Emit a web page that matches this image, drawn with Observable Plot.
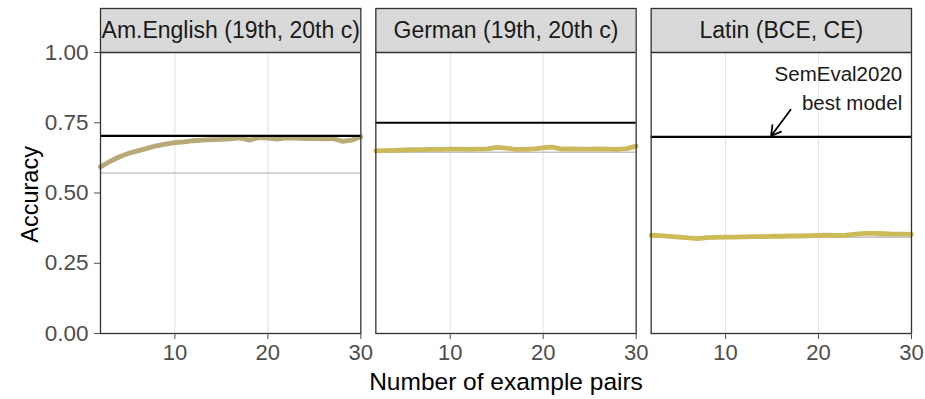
<!DOCTYPE html>
<html>
<head>
<meta charset="utf-8">
<script src="https://cdn.jsdelivr.net/npm/d3@7"></script>
<script src="https://cdn.jsdelivr.net/npm/@observablehq/plot@0.6"></script>
<style>
  html, body { margin: 0; padding: 0; background: #ffffff; }
  svg { overflow: visible; }
</style>
</head>
<body>
<div id="chart"></div>
<script>
// ---- data ----
const languages = ["Am.English (19th, 20th c)", "German (19th, 20th c)", "Latin (BCE, CE)"];
const examplePairs = [2, 3, 4, 5, 6, 7, 8, 9, 10, 11, 12, 13, 14, 15, 16, 17, 18, 19, 20, 21, 22, 23, 24, 25, 26, 27, 28, 29, 30];
const accEnglish = [0.593, 0.612, 0.628, 0.641, 0.650, 0.659, 0.668, 0.674, 0.679, 0.682, 0.686, 0.688, 0.690, 0.691, 0.693, 0.696, 0.688, 0.697, 0.695, 0.692, 0.696, 0.695, 0.694, 0.694, 0.693, 0.694, 0.684, 0.688, 0.700];
const accGerman  = [0.650, 0.651, 0.652, 0.653, 0.654, 0.654, 0.655, 0.655, 0.656, 0.656, 0.655, 0.656, 0.657, 0.662, 0.660, 0.655, 0.655, 0.657, 0.661, 0.663, 0.656, 0.657, 0.656, 0.656, 0.657, 0.656, 0.655, 0.658, 0.667];
const accLatin   = [0.350, 0.348, 0.346, 0.343, 0.340, 0.338, 0.341, 0.342, 0.343, 0.343, 0.344, 0.345, 0.345, 0.346, 0.346, 0.347, 0.347, 0.348, 0.349, 0.350, 0.349, 0.350, 0.354, 0.356, 0.356, 0.355, 0.354, 0.354, 0.353];
const semevalBest = [0.703, 0.750, 0.700];
const baseline = [0.571, 0.645, 0.343];
const yTicks = [0, 0.25, 0.5, 0.75, 1];
const xTicks = [10, 20, 30];
const gridTicks = [10, 20];
const xLabel = "Number of example pairs";
const yLabel = "Accuracy";
const noteText = "SemEval2020\nbest model";

// ---- tables ----
const accBy = [accEnglish, accGerman, accLatin];
const rows = languages.flatMap((lang, i) => examplePairs.map((n, j) => ({lang, n, acc: accBy[i][j]})));
const bestRows = languages.map((lang, i) => ({lang, v: semevalBest[i]}));
const baseRows = languages.map((lang, i) => ({lang, v: baseline[i]}));

const yTop = 1 + 44 / 281;
const lineColors = ["#b7aa77", "#cbb95b", "#cdbb57"];
const font = "'Liberation Sans', Arial, Helvetica, sans-serif";

const chart = Plot.plot({
  width: 925,
  height: 399,
  marginTop: 8,
  marginBottom: 66,
  marginLeft: 100,
  marginRight: 14,
  style: {fontFamily: font, background: "#ffffff", color: "#4d4d4d"},
  fx: {domain: languages, paddingInner: 0.0545, paddingOuter: 0, round: false, axis: null, label: null},
  x: {domain: [2, 30], axis: null},
  y: {domain: [0, yTop], axis: null},
  color: {domain: languages, range: lineColors},
  marks: [
    Plot.ruleX(gridTicks, {x: d => d, y1: 0, y2: 1, stroke: "#e6e6e6", strokeWidth: 1.2}),
    Plot.rect(languages, {fx: d => d, x1: 2, x2: 30, y1: 1, y2: yTop, fill: "#d9d9d9"}),
    Plot.ruleY(baseRows, {fx: "lang", y: "v", x1: 2, x2: 30, stroke: "#c4c4c8", strokeWidth: 1.6}),
    Plot.line(rows, {fx: "lang", x: "n", y: "acc", stroke: "lang", strokeWidth: 4.8, strokeLinejoin: "round", strokeLinecap: "round"}),
    Plot.ruleY(bestRows, {fx: "lang", y: "v", x1: 2, x2: 30, stroke: "#000000", strokeWidth: 2.2}),
    Plot.ruleY([1], {x1: 2, x2: 30, stroke: "#333333", strokeWidth: 1.3}),
    Plot.frame({stroke: "#333333", strokeWidth: 1.3}),
    Plot.text(languages, {fx: d => d, x: 16, y: (1 + yTop) / 2, text: d => d, fontSize: 23, fill: "#1a1a1a"}),
    Plot.axisY(yTicks, {anchor: "left", tickFormat: d3.format(".2f"), tickSize: 6, tickPadding: 6, fontSize: 22.5, color: "#4d4d4d", label: null}),
    Plot.axisX(xTicks, {anchor: "bottom", tickSize: 6, tickPadding: 5, fontSize: 22, color: "#4d4d4d", label: null}),
    Plot.text([languages[0]], {fx: d => d, frameAnchor: "left", dx: -70, y: 0.495, textAnchor: "middle", text: () => yLabel, rotate: -90, fontSize: 23.5, fill: "#000000"}),
    Plot.text([languages[1]], {fx: d => d, frameAnchor: "bottom", dy: 49, lineAnchor: "middle", textAnchor: "middle", text: () => xLabel, fontSize: 24.5, fill: "#000000"}),
    Plot.text([languages[2]], {fx: d => d, x: 29, y: 0.8795, text: () => noteText, textAnchor: "end", lineAnchor: "middle", lineHeight: 1.38, fontSize: 20.5, fill: "#1a1a1a"}),
    Plot.arrow([languages[2]], {fx: d => d, x1: 17, y1: 0.796, x2: 14.9, y2: 0.703, stroke: "#000000", strokeWidth: 1.8, headLength: 9})
  ]
});
document.getElementById("chart").appendChild(chart);
</script>
</body>
</html>
